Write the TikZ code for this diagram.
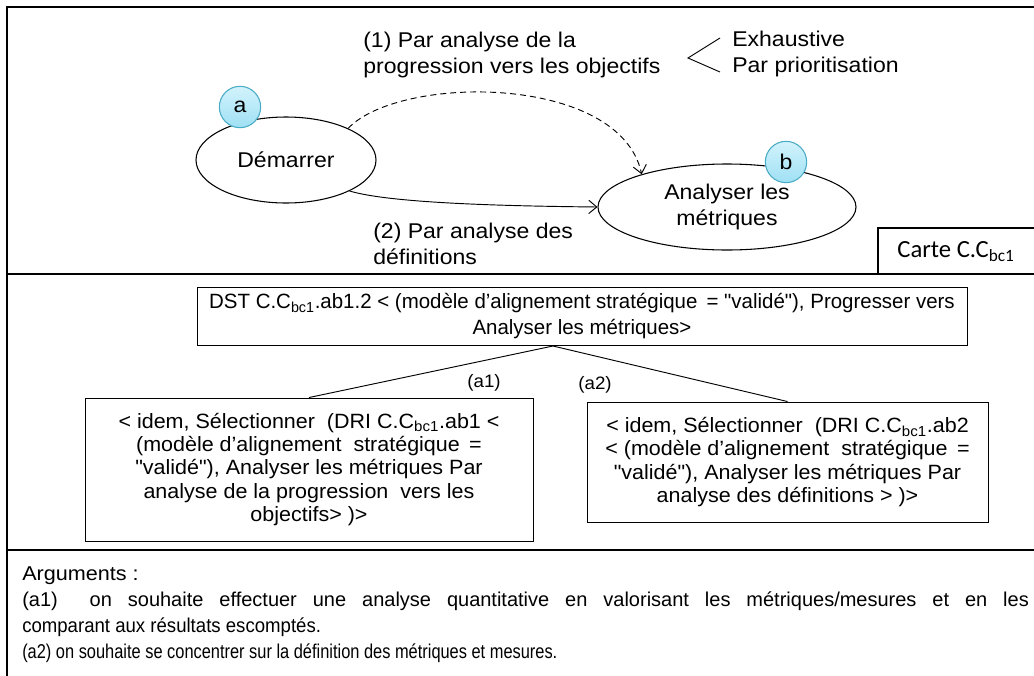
\documentclass[tikz,border=0pt]{standalone}
\usepackage{fontspec}
\setmainfont{Liberation Sans}
\newfontfamily\upf[FakeStretch=1.08]{Liberation Sans}
\newfontfamily\boxf[FakeStretch=1.04]{Liberation Sans}
\newfontfamily\dstf[FakeStretch=0.99]{Liberation Sans}
\newfontfamily\argf[FakeStretch=1.08]{Liberation Sans}
\newfontfamily\lineaf[FakeStretch=1.0]{Liberation Sans}
\newfontfamily\linebf[FakeStretch=0.93]{Liberation Sans}
\newfontfamily\linecf[FakeStretch=0.82]{Liberation Sans}
\newfontfamily\calib{Carlito}
\usetikzlibrary{shapes.geometric,arrows.meta}
\definecolor{bubbleline}{HTML}{4BACC6}
\definecolor{bubbletop}{HTML}{D2F3FC}
\definecolor{bubblebot}{HTML}{9FE0F4}
\tikzset{
  ell/.style={draw, ellipse, inner sep=0pt, line width=0.8pt, font=\upf\fontsize{16}{19.5}\selectfont, align=center},
  bubble/.style={circle, draw=bubbleline, line width=0.8pt, top color=bubbletop, bottom color=bubblebot, minimum size=31pt, inner sep=0pt, font=\upf\fontsize{16}{19.5}\selectfont},
  lbl/.style={inner sep=0pt, align=left, font=\upf\fontsize{16}{19.5}\selectfont},
  txtbox/.style={draw, line width=0.7pt, inner sep=0pt, align=center, font=\boxf\fontsize{15.5}{17.6}\selectfont},
  small/.style={inner sep=0pt, font=\boxf\fontsize{13.5}{15}\selectfont},
  frame/.style={line width=1pt},
  tip/.style={-{Straight Barb[length=6pt,width=10pt]}, line width=0.7pt}
}
\begin{document}
\begin{tikzpicture}[x=0.75pt, y=-0.75pt]
\useasboundingbox (0,0) rectangle (1034,675);
\clip (0,0) rectangle (1034,675);
% frame and separators
\draw[frame] (1040,7) -| (7,690);
\draw[line width=0.8pt] (7,274) -- (1040,274);
\draw[line width=0.8pt] (7,550) -- (1040,550);
\draw[line width=0.8pt] (878,274) |- (1040,228);
\node[inner sep=0pt, font=\calib\fontsize{18.5}{22}\selectfont] (carte) at (956,252) {Carte C.C\textsubscript{bc1}};

% map
\node[ell, minimum width=135pt, minimum height=64.5pt] (dem) at (286,160) {Démarrer};
\node[ell, minimum width=193.5pt, minimum height=64.5pt] (ana) at (727,207) {Analyser les\\métriques};
\node[bubble] (ca) at (240,107) {a};
\node[bubble] (cb) at (786,162) {b};

\draw[tip, dash pattern=on 4.5pt off 3pt] (dem.27) .. controls (400,74) and (620,74) .. (ana.159);
\draw[tip] (dem.-26) .. controls (390,203) and (500,206) .. (ana.180);

\node[lbl, anchor=west] (l1) at (363,55) {(1) Par analyse de la\\progression vers les objectifs};
\node[lbl, anchor=west] (l2) at (373,244) {(2) Par analyse des\\définitions};
\node[lbl, anchor=west] (ex) at (732,54) {Exhaustive\\Par prioritisation};
\draw[line width=0.7pt] (720,38) -- (688,58) -- (720,72);

% decision tree
\node[txtbox, font=\dstf\fontsize{15.5}{19.5}\selectfont, minimum width=577.5pt, minimum height=43.5pt] (dst) at (582,316)
  {DST C.C\textsubscript{bc1}.ab1.2 < (modèle d’alignement stratégique \,= "validé"), Progresser vers\\Analyser les métriques>};
\node[txtbox, minimum width=336pt, minimum height=107.25pt] (b1) at (309,469.5)
  {< idem, Sélectionner \ (DRI C.C\textsubscript{bc1}.ab1 <\\(modèle d’alignement \ stratégique \,=\\"validé"), Analyser les métriques Par\\analyse de la progression \ vers les\\objectifs> )>};
\node[txtbox, minimum width=300.75pt, minimum height=90pt] (b2) at (787.5,462)
  {< idem, Sélectionner \ (DRI C.C\textsubscript{bc1}.ab2\\< (modèle d’alignement \ stratégique \,=\\"validé"), Analyser les métriques Par\\analyse des définitions > )>};
\coordinate (apex) at (553,346);
\draw[line width=0.7pt] (apex) -- (b1.north);
\draw[line width=0.7pt] (apex) -- (b2.north);
\node[small] (a1) at (484,383) {(a1)};
\node[small] (a2) at (595,385) {(a2)};

% arguments
\node[inner sep=0pt, anchor=north west, align=left, font=\fontsize{15}{19.5}\selectfont] (args) at (22,566)
  {{\argf Arguments\ :}\\
   {\lineaf\makebox[755pt][s]{(a1)\ \ on souhaite effectuer une analyse quantitative en valorisant les métriques/mesures et en les}}\\
   {\linebf comparant aux résultats escomptés.}\\
   {\linecf (a2) on souhaite se concentrer sur la définition des métriques et mesures.}};
\end{tikzpicture}
\end{document}
